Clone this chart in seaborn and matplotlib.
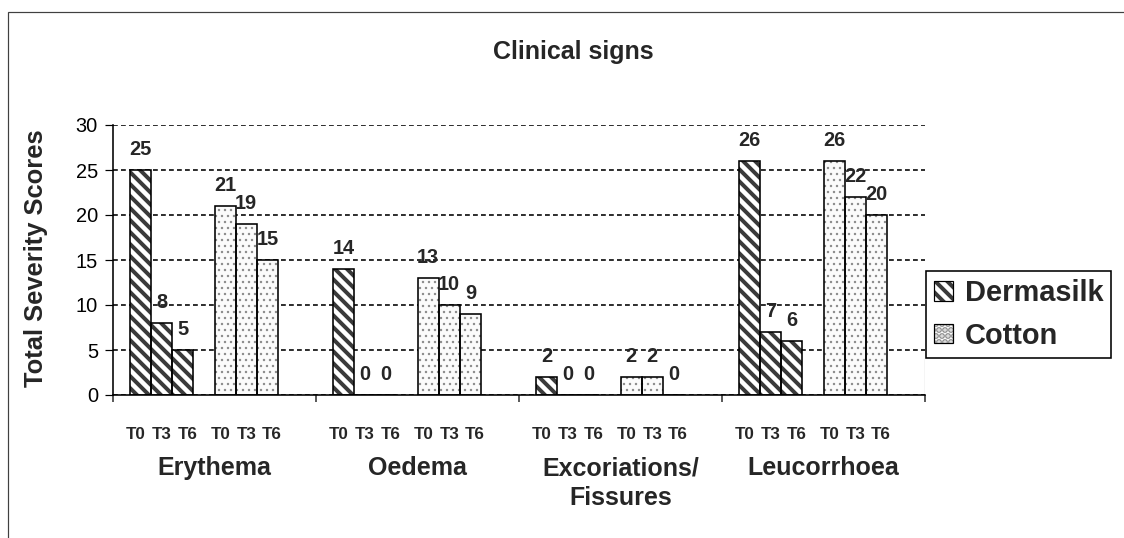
import numpy as np
import pandas as pd
import matplotlib
matplotlib.use("Agg")
import matplotlib.pyplot as plt
from matplotlib.patches import Patch, Rectangle
import seaborn as sns

# data
signs = ["Erythema", "Oedema", "Excoriations/\nFissures", "Leucorrhoea"]
times = ["T0", "T3", "T6"]
dermasilk = [[25, 8, 5], [14, 0, 0], [2, 0, 0], [26, 7, 6]]
cotton = [[21, 19, 15], [13, 10, 9], [2, 2, 0], [26, 22, 20]]
y_ticks = [0, 5, 10, 15, 20, 25, 30]

# 8 slots per sign: 3 Dermasilk bars, an empty slot, 3 Cotton bars, an empty slot
slot_order = ["Dermasilk T0", "Dermasilk T3", "Dermasilk T6", "gap1",
              "Cotton T0", "Cotton T3", "Cotton T6", "gap2"]

rows = []
for i, s in enumerate(signs):
    for j, t in enumerate(times):
        rows.append((s, "Dermasilk " + t, dermasilk[i][j]))
        rows.append((s, "Cotton " + t, cotton[i][j]))
    rows.append((s, "gap1", 0))
    rows.append((s, "gap2", 0))
df = pd.DataFrame(rows, columns=["sign", "slot", "score"])

sns.set_style("white")
plt.rcParams["font.family"] = ["Liberation Sans", "DejaVu Sans"]
plt.rcParams["hatch.linewidth"] = 4.5

DPI = 72
W, H = 1124, 538
fig = plt.figure(figsize=(W / DPI, H / DPI), dpi=DPI)
ax = fig.add_axes([113 / W, 143 / H, 812 / W, 270 / H])

bar_w = 0.835
sns.barplot(data=df, x="sign", y="score", hue="slot", order=signs,
            hue_order=slot_order, palette={k: "#3a3a3a" for k in slot_order},
            width=bar_w, gap=0, errorbar=None, legend=False, saturation=1,
            linewidth=0, ax=ax)

DERMA_FACE, DERMA_HATCH = "#3a3a3a", "white"
COT_FACE, COT_HATCH = "#fbfbfb", "#8c8c8c"

slot_w = bar_w / len(slot_order)
bars = list(ax.patches)
xt = ax.get_xaxis_transform()
for p in bars:
    cx = p.get_x() + p.get_width() / 2
    cat = int(round(cx))
    slot = int(round((cx - cat + bar_w / 2) / slot_w - 0.5))
    h = p.get_height()
    if slot in (3, 7):
        p.set_visible(False)
        continue
    if slot < 3:
        p.set_facecolor(DERMA_FACE)
        p.set_edgecolor(DERMA_HATCH)
        p.set_hatch("\\\\")
    else:
        p.set_facecolor(COT_FACE)
        p.set_edgecolor(COT_HATCH)
        p.set_hatch("..")
        if hasattr(p, "set_hatch_linewidth"):
            p.set_hatch_linewidth(1.2)
    p.set_linewidth(0)
    ax.add_patch(Rectangle((p.get_x(), 0), p.get_width(), h, fill=False,
                           ec="black", lw=1.6, zorder=p.get_zorder() + 0.1))
    ax.annotate(f"{int(round(h))}", (cx, h), xytext=(0, 11),
                textcoords="offset points", ha="center", va="bottom",
                fontsize=20, fontweight="bold")
    # time labels sit a little wider apart than the bars
    j = slot % 4
    ax.annotate(times[j], (cx, -0.148), xycoords=xt,
                xytext=((j - 1) * 4.5, 0), textcoords="offset points",
                ha="center", va="center", fontsize=17, fontweight="bold")

for i, s in enumerate(signs):
    ax.text(i, -0.226, s, transform=xt, ha="center", va="top", fontsize=25,
            fontweight="bold", linespacing=1.3)

ax.set_xlim(-0.5, len(signs) - 0.5)
ax.set_ylim(0, 30)
ax.set_yticks(y_ticks)
ax.set_xticks(np.arange(-0.5, len(signs)), labels=[])
ax.set_xlabel("")
ax.set_ylabel("")
ax.tick_params(axis="y", left=True, direction="out", length=8, width=1.2,
               pad=7, labelsize=20, colors="black")
ax.tick_params(axis="x", bottom=True, direction="out", length=7, width=1.5)
ax.yaxis.grid(True, linestyle=(0, (3, 2)), color="black", lw=1.6)
ax.set_axisbelow(True)
for side in ["left", "bottom"]:
    ax.spines[side].set_color("black")
    ax.spines[side].set_linewidth(1.6)
ax.spines["top"].set_visible(False)
ax.spines["right"].set_visible(False)
# short piece of the plot-area border that shows below the legend
ax.axvline(len(signs) - 0.5, ymin=0, ymax=37 / 270, color="#a0a0a0", lw=1.2)

fig.text(573 / W, 1 - 52 / H, "Clinical signs", ha="center", va="center",
         fontsize=25, fontweight="bold")
fig.text(36 / W, 1 - 258 / H, "Total Severity Scores", rotation=90,
         ha="center", va="center", fontsize=25.5, fontweight="bold")

outline = dict(fill=False, ec="black", lw=1.2)
handles = [
    (Patch(fc=DERMA_FACE, ec=DERMA_HATCH, lw=0, hatch="\\\\"), Patch(**outline)),
    (Patch(fc=COT_FACE, ec=COT_HATCH, lw=0, hatch=".."), Patch(**outline)),
]
leg = fig.legend(handles, ["Dermasilk", "Cotton"], loc="center left",
                 bbox_to_anchor=(926 / W, 1 - 314.5 / H), frameon=True,
                 fancybox=False, edgecolor="black", framealpha=1,
                 prop={"weight": "bold", "size": 29}, handlelength=0.65,
                 handleheight=0.65, handletextpad=0.4, labelspacing=0.5,
                 borderpad=0.28, borderaxespad=0)
leg.get_frame().set_linewidth(1.6)

# outer chart frame (cut off at right and bottom like the source)
fig.add_artist(Rectangle((8 / W, -0.1), 1.2, 1 - 12 / H + 0.1,
                         transform=fig.transFigure, fill=False,
                         ec="#404040", lw=1.2))

fig.savefig("out.png", dpi=DPI)
